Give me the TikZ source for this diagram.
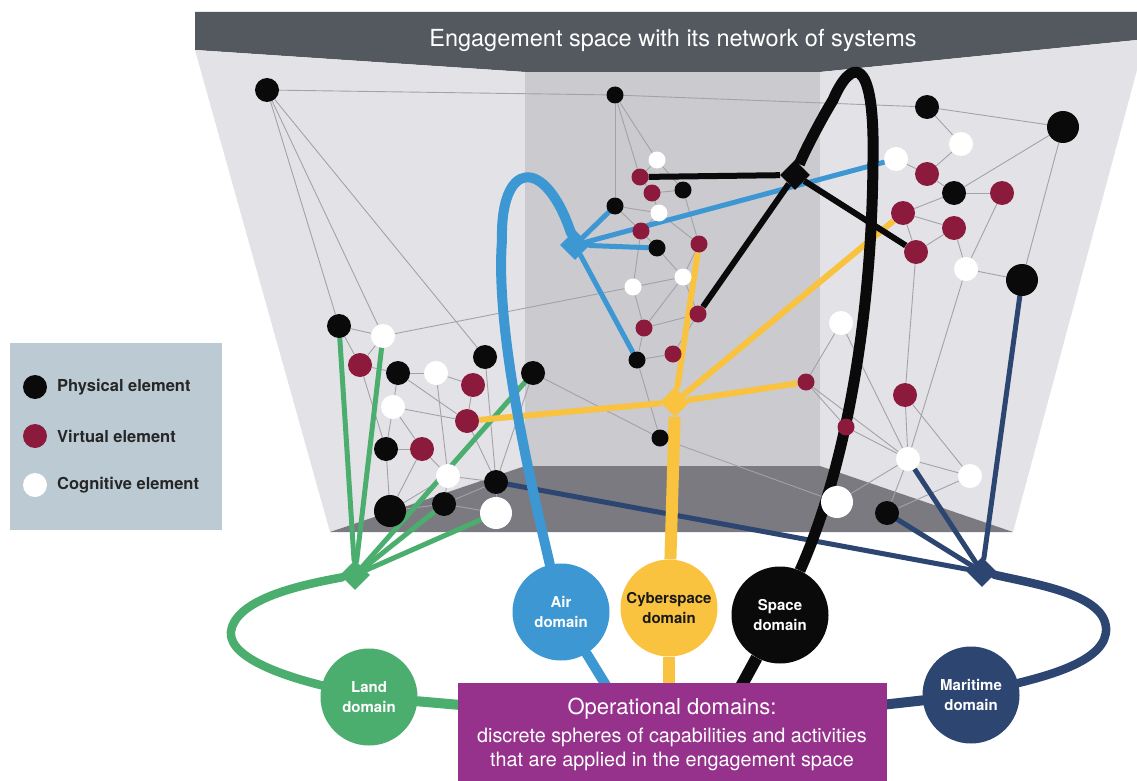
\documentclass[tikz,border=0pt]{standalone}
\usepackage{fontspec}
\setmainfont{TeX Gyre Heros}
\usetikzlibrary{shapes.geometric}
\definecolor{bandcol}{HTML}{54585F}
\definecolor{sidecol}{HTML}{E3E3E7}
\definecolor{backcol}{HTML}{CACACF}
\definecolor{floorcol}{HTML}{7A7A80}
\definecolor{legcol}{HTML}{BCCAD4}
\definecolor{netcol}{HTML}{A2A2A8}
\definecolor{physcol}{HTML}{0A0A0A}
\definecolor{virtcol}{HTML}{8B1A3C}
\definecolor{landcol}{HTML}{4BAE6E}
\definecolor{aircol}{HTML}{3C97D3}
\definecolor{cybcol}{HTML}{F9C33F}
\definecolor{marcol}{HTML}{2D4571}
\definecolor{opcol}{HTML}{96328C}
\pgfdeclarelayer{walls}
\pgfdeclarelayer{edges}
\pgfsetlayers{walls,edges,main}
\tikzset{
  pn/.style={circle,fill=physcol,inner sep=0pt,minimum size=24pt},
  vn/.style={circle,fill=virtcol,inner sep=0pt,minimum size=24pt},
  cn/.style={circle,fill=white,inner sep=0pt,minimum size=24pt},
  sm/.style={minimum size=17pt},
  lg/.style={minimum size=32pt},
  net/.style={draw=netcol,line width=0.9pt},
  hubshape/.style={diamond,inner sep=0pt,minimum size=30pt},
  domcircle/.style={circle,inner sep=0pt,minimum size=97pt,align=center,text=white,font=\bfseries\fontsize{15}{20}\selectfont},
  legtext/.style={anchor=west,inner sep=0pt,text=black!85,font=\bfseries\fontsize{16.5}{20}\selectfont},
  thick1/.style={line width=10pt,line cap=round,line join=round},
  thick2/.style={line width=8.5pt,line cap=round,line join=round},
  branch/.style={line width=5pt,line cap=round},
}
\begin{document}
\begin{tikzpicture}[x=1pt,y=-1pt]
\useasboundingbox (0,0) rectangle (1137,781);
\begin{pgfonlayer}{walls}
\fill[bandcol] (195,12) -- (1137,12) -- (1137,40) -- (820,72) -- (525,72) -- (195,50) -- cycle;
\fill[sidecol] (195,50) -- (525,72) -- (525,466) -- (330,532) -- cycle;
\fill[backcol] (525,72) rectangle (820,466);
\fill[sidecol] (820,72) -- (1137,40) -- (1137,70) -- (1013,532) -- (820,466) -- cycle;
\fill[floorcol] (330,532) -- (525,466) -- (820,466) -- (1013,532) -- cycle;
\fill[legcol] (10,343) rectangle (222,530);
\end{pgfonlayer}
% title
\node[text=white,font=\fontsize{23.5}{28}\selectfont] (title) at (673,40) {Engagement space with its network of systems};
% legend
\node[pn] (lp) at (35,387) {};
\node[vn] (lv) at (35,436) {};
\node[cn] (lc) at (35,485) {};
\node[legtext] (lpt) at (57,387) {Physical element};
\node[legtext] (lvt) at (57,436) {Virtual element};
\node[legtext] (lct) at (57,485) {Cognitive element};
% left wall
\node[pn] (L1) at (267,90) {};
\node[pn] (L2) at (339,326) {};
\node[cn] (L3) at (383,336) {};
\node[vn] (L4) at (360,365) {};
\node[pn] (L5) at (398,373) {};
\node[cn] (L6) at (436,373) {};
\node[vn] (L7) at (473,385) {};
\node[pn] (L8) at (485,357) {};
\node[pn] (L9) at (533,373) {};
\node[cn] (L10) at (393,407) {};
\node[vn] (L11) at (467,421) {};
\node[pn] (L12) at (386,449) {};
\node[vn] (L13) at (422,449) {};
\node[cn] (L14) at (448,476) {};
\node[pn] (L15) at (496,482) {};
\node[pn,lg] (L16) at (390,511) {};
\node[pn] (L17) at (444,504) {};
\node[cn,lg] (L18) at (496,513) {};
% back wall
\node[pn,sm] (M1) at (615,95) {};
\node[cn,sm] (M2) at (657,160) {};
\node[vn,sm] (M3) at (640,177) {};
\node[vn,sm] (M4) at (652,193) {};
\node[pn,sm] (M5) at (683,190) {};
\node[pn,sm] (M6) at (615,206) {};
\node[cn,sm] (M7) at (659,213) {};
\node[vn,sm] (M8) at (641,231) {};
\node[pn,sm] (M9) at (657,248) {};
\node[vn,sm] (M10) at (699,244) {};
\node[cn,sm] (M11) at (683,277) {};
\node[cn,sm] (M12) at (633,287) {};
\node[vn,sm] (M13) at (698,314) {};
\node[vn,sm] (M14) at (644,328) {};
\node[vn,sm] (M15) at (673,354) {};
\node[pn,sm] (M16) at (637,360) {};
\node[pn,sm] (M17) at (660,438) {};
\node[vn,sm] (M18) at (806,382) {};
% right wall
\node[pn] (R1) at (927,107) {};
\node[pn,lg] (R2) at (1063,127) {};
\node[cn] (R3) at (961,144) {};
\node[cn] (R4) at (896,159) {};
\node[vn] (R5) at (927,174) {};
\node[pn] (R6) at (954,193) {};
\node[vn] (R7) at (1002,193) {};
\node[vn] (R8) at (903,213) {};
\node[vn] (R9) at (954,228) {};
\node[vn] (R10) at (916,252) {};
\node[cn] (R11) at (966,269) {};
\node[pn,lg] (R12) at (1022,280) {};
\node[cn] (R13) at (841,323) {};
\node[vn] (R14) at (905,395) {};
\node[vn,sm] (R15) at (846,427) {};
\node[cn] (R16) at (908,459) {};
\node[cn] (R17) at (970,476) {};
\node[cn,lg] (R18) at (837,502) {};
\node[pn] (R19) at (887,513) {};
% hubs
\node[hubshape,fill=landcol] (ghub) at (355,575) {};
\node[hubshape,fill=aircol] (ahub) at (575,245) {};
\node[hubshape,fill=physcol] (khub) at (795,175) {};
\node[hubshape,fill=cybcol] (yhub) at (675,402) {};
\node[hubshape,fill=marcol] (nhub) at (982,572) {};
% domains
\node[domcircle,fill=landcol] (land) at (369,697) {Land\\domain};
\node[domcircle,fill=aircol] (air) at (561,612) {Air\\domain};
\node[domcircle,fill=cybcol,text=black!90] (cyber) at (669,608) {Cyberspace\\domain};
\node[domcircle,fill=physcol] (spacedom) at (780,615) {Space\\domain};
\node[domcircle,fill=marcol] (mari) at (971,695) {Maritime\\domain};
% operational box
\node[fill=opcol,minimum width=429pt,minimum height=98pt,inner sep=0pt,anchor=north west] (box) at (458,683) {};
\node[align=center,text=white,inner sep=0pt] (boxtext) at (672,734)
 {\fontsize{22}{26}\selectfont Operational domains:\\[8pt]
  \fontsize{19.8}{24}\selectfont discrete spheres of capabilities and activities\\[4pt]
  \fontsize{19.8}{24}\selectfont that are applied in the engagement space};
\coordinate (bLand) at (472,706);
\coordinate (bAir) at (612,695);
\coordinate (bCyber) at (669,697);
\coordinate (bSpace) at (738,692);
\coordinate (bMari) at (872,706);
\begin{pgfonlayer}{edges}
\foreach \a/\b in {L1/M1,M1/R1,R1/R2,L1/L2,L1/L3,L1/L8,
 L2/L3,L2/L4,L3/L4,L4/L5,L4/L12,L3/M12,M12/M11,
 L5/L6,L5/L10,L5/L11,L6/L7,L6/L14,L7/L11,L8/L15,L9/L15,L9/M17,
 L10/L11,L10/L12,L10/L13,L12/L13,L12/L16,L13/L14,L13/L16,L14/L15,L14/L17,L14/L16,
 L16/L17,L17/L15,L17/L18,L15/L18,L11/L15,
 M1/M2,M1/M6,M1/M3,M2/M3,M3/M4,M4/M5,M2/M5,M4/M7,M6/M7,M6/M8,M7/M8,M5/M10,M7/M10,
 M8/M9,M8/M12,M9/M11,M10/M11,M12/M14,M11/M14,M11/M13,M14/M13,M14/M16,M15/M16,M15/M13,
 M16/M17,M17/R18,
 R1/R3,R3/R5,R4/R5,R5/R6,R6/R7,R6/R8,R6/R2,R8/R9,R8/R10,R9/R10,R9/R11,R7/R11,R11/R12,
 R2/R12,R10/R14,R11/R16,R13/M18,R13/R16,M18/R15,M18/R16,R15/R16,R14/R16,R16/R17,
 R16/R18,R16/R19,R17/R19,R14/R17}
 \draw[net] (\a) -- (\b);
% maritime
\draw[marcol,thick1] (mari) -- (bMari);
\draw[marcol,thick2] (mari) .. controls (1050,675) and (1108,660) .. (1106,628)
  .. controls (1104,595) and (1040,585) .. (nhub);
\foreach \t in {R12,R16,R19,L15} \draw[marcol,branch] (nhub) -- (\t);
% land
\draw[landcol,thick1] (land) -- (bLand);
\draw[landcol,thick2] (land) .. controls (280,675) and (222,655) .. (232,627)
  .. controls (242,598) and (300,585) .. (ghub);
\foreach \t in {L2,L3,L9,L17,L18} \draw[landcol,branch] (ghub) -- (\t);
% cyberspace
\draw[cybcol,line width=12pt] (cyber) -- (bCyber);
\draw[cybcol,line width=12pt] (cyber) -- (yhub);
\foreach \t in {L11,M10,R8,M18} \draw[cybcol,line width=6pt] (yhub) -- (\t);
% air
\draw[aircol,thick1] (air) -- (bAir);
\draw[aircol,thick1] (air) .. controls (530,480) and (495,330) .. (502,240)
  .. controls (500,160) and (545,155) .. (ahub);
\foreach \t in {M6,R4,M9,M16} \draw[aircol,branch] (ahub) -- (\t);
% space
\draw[physcol,line width=12pt] (spacedom) -- (bSpace);
\draw[physcol,line width=11pt,line join=round] (spacedom) .. controls (845,470) and (872,320) .. (873,160)
  .. controls (875,50) and (850,60) .. (833,100) .. controls (822,118) and (805,150) .. (khub);
\foreach \t in {M3,M13,R10} \draw[physcol,line width=6pt] (khub) -- (\t);
\end{pgfonlayer}
\end{tikzpicture}
\end{document}
